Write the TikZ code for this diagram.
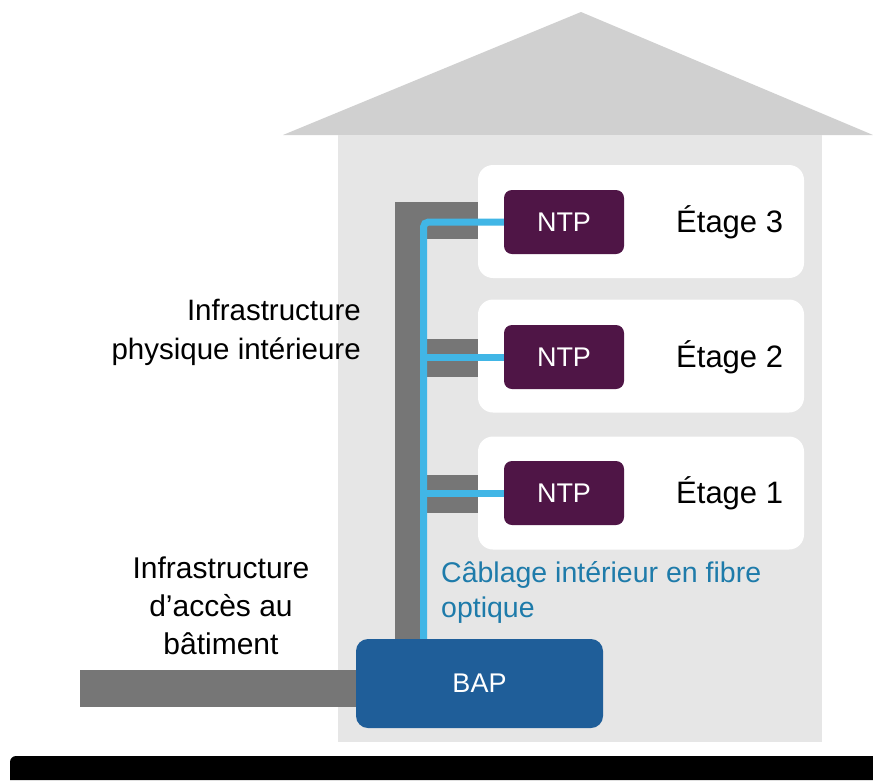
\documentclass[tikz,border=0pt]{standalone}
\usepackage{fontspec}
\setmainfont{Liberation Sans}
\usepackage{tikz}
\usetikzlibrary{positioning, calc}
\usepackage{xcolor}

\definecolor{roofgray}{HTML}{D0D0D0}
\definecolor{bodygray}{HTML}{E6E6E6}
\definecolor{ductgray}{HTML}{767676}
\definecolor{fibreblue}{HTML}{41B6E6}
\definecolor{ntppurple}{HTML}{4F1546}
\definecolor{bapblue}{HTML}{1F5E99}
\definecolor{cabletext}{HTML}{1E7BAA}

\begin{document}
\begin{tikzpicture}[x=1pt, y=-1pt]
        % Definitions
        \def\floorL{478}
        \def\floorW{326}
        \def\floorH{113}
        \def\ntpW{120}
        \def\ntpH{64}

        % Styles
        \tikzstyle{floorbox} = [fill=white, rounded corners=15pt, minimum width=\floorW, minimum height=\floorH, inner sep=0pt]
        \tikzstyle{ntp} = [fill=ntppurple, text=white, rounded corners=8pt, minimum width=\ntpW, minimum height=\ntpH, font=\fontsize{27}{30}\selectfont]
        \tikzstyle{bap} = [fill=bapblue, text=white, rounded corners=12pt, minimum width=247, minimum height=89, font=\fontsize{27}{30}\selectfont]
        \tikzstyle{floorlabel} = [anchor=west, inner sep=0pt, font=\fontsize{31}{36}\selectfont]
        \tikzstyle{label} = [inner sep=0pt, font=\fontsize{29.5}{39}\selectfont]
        \tikzstyle{duct} = [fill=ductgray]
        \tikzstyle{fibre} = [draw=fibreblue, line width=7pt]

        \useasboundingbox (0,0) rectangle (873,780);
        \fill[white] (0,0) rectangle (873,780);

        % House
        \fill[roofgray] (283,135) -- (581,12) -- (873,135) -- cycle;
        \fill[bodygray] (338,135) rectangle (822,742);

        % Floors
        \node[floorbox] (floor3) at (\floorL+\floorW/2, 221.5) {};
        \node[floorbox] (floor2) at (\floorL+\floorW/2, 356) {};
        \node[floorbox] (floor1) at (\floorL+\floorW/2, 493) {};

        % Ducts
        \fill[duct] (395,202) rectangle (427,660);
        \fill[duct] (395,202) rectangle (\floorL,239);
        \fill[duct] (427,339) rectangle (\floorL,377);
        \fill[duct] (427,475) rectangle (\floorL,513);
        \fill[duct] (80,670) rectangle (370,707);

        % NTP and BAP
        \node[ntp] (ntp3) at (564,222) {NTP};
        \node[ntp] (ntp2) at (564,357) {NTP};
        \node[ntp] (ntp1) at (564,493) {NTP};
        \node[bap] (bap) at (479.5,683.5) {BAP};

        \node[floorlabel] (etage3) at (676,222) {Étage 3};
        \node[floorlabel] (etage2) at (676,357) {Étage 2};
        \node[floorlabel] (etage1) at (676,493) {Étage 1};

        % Fibre
        \coordinate (fibrex) at (423.5,0);
        \draw[fibre, rounded corners=5pt] (ntp3.west) -| (bap.north -| fibrex);
        \draw[fibre] (ntp2.west) -- (ntp2.west -| fibrex);
        \draw[fibre] (ntp1.west) -- (ntp1.west -| fibrex);

        % Labels
        \node[label, anchor=east, align=right] (indoor) at (361,332.5) {Infrastructure\\physique intérieure};
        \node[label, align=center, font=\fontsize{30}{38}\selectfont] (access) at (221,606) {Infrastructure\\d’accès au\\bâtiment};
        \node[label, anchor=west, align=left, text=cabletext, font=\fontsize{28.5}{35}\selectfont] (cabling) at (441,592.5) {Câblage intérieur en fibre\\optique};

        % Bottom bar
        \fill[black] (10,780) [rounded corners=6pt] -- (10,756) [sharp corners] -- (873,756) -- (873,780) -- cycle;

    \end{tikzpicture}
\end{document}
